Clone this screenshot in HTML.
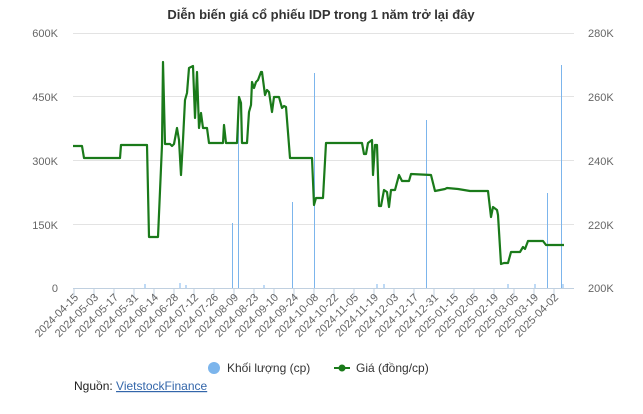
<!DOCTYPE html><html><head><meta charset="utf-8"><style>body{margin:0;background:#fff;font-family:"Liberation Sans",sans-serif}</style></head><body>
<svg width="643" height="409" xmlns="http://www.w3.org/2000/svg" font-family="Liberation Sans, sans-serif">
<text x="321" y="19" text-anchor="middle" font-size="13" font-weight="bold" fill="#333">Diễn biến giá cổ phiếu IDP trong 1 năm trở lại đây</text>
<g stroke="#e3e3e3" stroke-width="1">
<line x1="73" x2="574" y1="33.5" y2="33.5"/><line x1="73" x2="574" y1="96.5" y2="96.5"/><line x1="73" x2="574" y1="160.5" y2="160.5"/><line x1="73" x2="574" y1="224.5" y2="224.5"/></g>
<line x1="73" x2="574" y1="288.5" y2="288.5" stroke="#c0d0e0"/>
<g font-size="11" fill="#666" text-anchor="end">
<text x="58" y="37">600K</text><text x="58" y="101">450K</text><text x="58" y="165">300K</text><text x="58" y="229">150K</text><text x="58" y="292">0</text></g>
<g font-size="11" fill="#666">
<text x="588" y="37">280K</text><text x="588" y="101">260K</text><text x="588" y="165">240K</text><text x="588" y="229">220K</text><text x="588" y="292">200K</text></g>
<g stroke="#7cb5ec" stroke-width="1">
<line x1="232.5" x2="232.5" y1="223" y2="288"/><line x1="238.5" x2="238.5" y1="100" y2="288"/><line x1="292.5" x2="292.5" y1="202" y2="288"/><line x1="314.5" x2="314.5" y1="73" y2="288"/><line x1="426.5" x2="426.5" y1="120" y2="288"/><line x1="547.5" x2="547.5" y1="193" y2="288"/><line x1="561.5" x2="561.5" y1="65" y2="288"/>
<line x1="145" x2="145" y1="284" y2="288"/><line x1="180" x2="180" y1="283" y2="288"/><line x1="186" x2="186" y1="285" y2="288"/><line x1="264" x2="264" y1="285" y2="288"/><line x1="377" x2="377" y1="284" y2="288"/><line x1="384" x2="384" y1="284" y2="288"/><line x1="508" x2="508" y1="284" y2="288"/><line x1="535" x2="535" y1="284" y2="288"/><line x1="563" x2="563" y1="284" y2="288"/></g>
<polyline fill="none" stroke="#1a7a1a" stroke-width="2.2" stroke-linejoin="round" points="73,146 82,146 84,158 120,158 121,145 147,145 149,237 158,237 162,145 163,62 165,144 170,144 172,146 174,144 177,128 179,140 181,175 183,140 185,100 187,93 189,68 193,66 195,118 197,72 199,128 201,113 203,128 207,128 209,143 223,143 224,125 226,143 237,143 239,97 241,103 242,143 247,143 249,112 251,105 252,82 254,88 256,82 258,80 261,72 262,72 265,95 267,90 269,92 272,112 274,97 279,97 282,108 284,106 286,107 290,158 312,158 314,205 316,198 323,198 326,143 362,143 364,154 366,154 368,143 372,140 373,175 375,145 377,145 379,206 381,206 384,190 387,192 389,207 391,190 395,190 399,175 402,181 409,181 411,174 431,175 435,191 445,189 447,188 458,189 470,191 488,191 491,217 493,207 497,210 498,215 501,264 504,263 508,263 511,252 520,252 523,247 525,249 528,241 543,241 546,245 564,245"/>
<g stroke="#c0d0e0">
<line x1="74" x2="74" y1="288" y2="298"/><line x1="94" x2="94" y1="288" y2="298"/><line x1="114" x2="114" y1="288" y2="298"/><line x1="134" x2="134" y1="288" y2="298"/><line x1="154" x2="154" y1="288" y2="298"/><line x1="174" x2="174" y1="288" y2="298"/><line x1="194" x2="194" y1="288" y2="298"/><line x1="214" x2="214" y1="288" y2="298"/><line x1="234" x2="234" y1="288" y2="298"/><line x1="254" x2="254" y1="288" y2="298"/><line x1="274" x2="274" y1="288" y2="298"/><line x1="294" x2="294" y1="288" y2="298"/><line x1="314" x2="314" y1="288" y2="298"/><line x1="334" x2="334" y1="288" y2="298"/><line x1="354" x2="354" y1="288" y2="298"/><line x1="374" x2="374" y1="288" y2="298"/><line x1="394" x2="394" y1="288" y2="298"/><line x1="414" x2="414" y1="288" y2="298"/><line x1="434" x2="434" y1="288" y2="298"/><line x1="454" x2="454" y1="288" y2="298"/><line x1="474" x2="474" y1="288" y2="298"/><line x1="494" x2="494" y1="288" y2="298"/><line x1="514" x2="514" y1="288" y2="298"/><line x1="534" x2="534" y1="288" y2="298"/><line x1="554" x2="554" y1="288" y2="298"/></g>
<g font-size="11" fill="#666" text-anchor="end">
<text transform="translate(79,298) rotate(-45)">2024-04-15</text><text transform="translate(99,298) rotate(-45)">2024-05-03</text><text transform="translate(119,298) rotate(-45)">2024-05-17</text><text transform="translate(139,298) rotate(-45)">2024-05-31</text><text transform="translate(159,298) rotate(-45)">2024-06-14</text><text transform="translate(179,298) rotate(-45)">2024-06-28</text><text transform="translate(199,298) rotate(-45)">2024-07-12</text><text transform="translate(219,298) rotate(-45)">2024-07-26</text><text transform="translate(239,298) rotate(-45)">2024-08-09</text><text transform="translate(259,298) rotate(-45)">2024-08-23</text><text transform="translate(279,298) rotate(-45)">2024-09-10</text><text transform="translate(299,298) rotate(-45)">2024-09-24</text><text transform="translate(319,298) rotate(-45)">2024-10-08</text><text transform="translate(339,298) rotate(-45)">2024-10-22</text><text transform="translate(359,298) rotate(-45)">2024-11-05</text><text transform="translate(379,298) rotate(-45)">2024-11-19</text><text transform="translate(399,298) rotate(-45)">2024-12-03</text><text transform="translate(419,298) rotate(-45)">2024-12-17</text><text transform="translate(439,298) rotate(-45)">2024-12-31</text><text transform="translate(459,298) rotate(-45)">2025-01-15</text><text transform="translate(479,298) rotate(-45)">2025-02-05</text><text transform="translate(499,298) rotate(-45)">2025-02-19</text><text transform="translate(519,298) rotate(-45)">2025-03-05</text><text transform="translate(539,298) rotate(-45)">2025-03-19</text><text transform="translate(559,298) rotate(-45)">2025-04-02</text></g>
<circle cx="214" cy="368" r="6" fill="#7cb5ec"/>
<text x="227" y="372" font-size="12" fill="#333">Khối lượng (cp)</text>
<line x1="334" x2="350" y1="368" y2="368" stroke="#1a7a1a" stroke-width="2"/><circle cx="342" cy="368" r="3.5" fill="#1a7a1a"/>
<text x="356" y="372" font-size="12" fill="#333">Giá (đồng/cp)</text>
<text x="74" y="390" font-size="12" fill="#222">Nguồn: <tspan fill="#3366aa" text-decoration="underline">VietstockFinance</tspan></text>
</svg></body></html>
